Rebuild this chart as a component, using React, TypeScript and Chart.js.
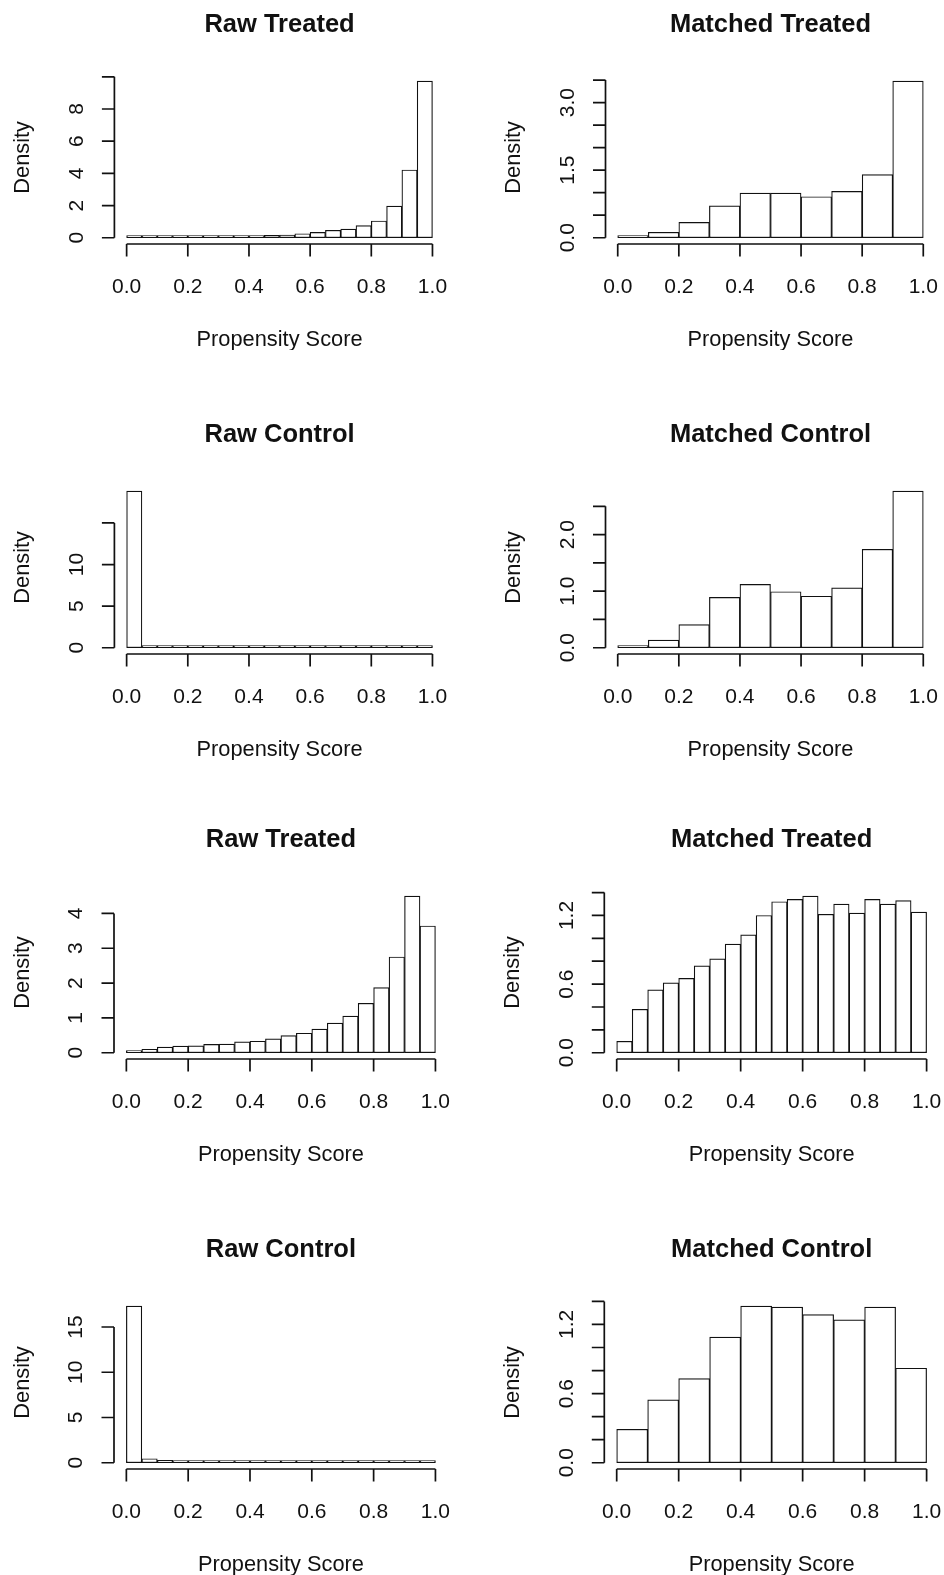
import { useEffect, useRef } from "react";
import { Chart, registerables } from "chart.js";

Chart.register(...registerables);

// Shared x axis (propensity score on [0, 1])
const xTickValues = [0, 0.2, 0.4, 0.6, 0.8, 1.0];
const xTickLabels = ["0.0", "0.2", "0.4", "0.6", "0.8", "1.0"];

// Histogram densities, study 1 (equal-width bins on [0, 1])
const rawTreated1 = [
  0.01, 0.01, 0.02, 0.03, 0.04, 0.06, 0.07, 0.1, 0.12, 0.15,
  0.17, 0.25, 0.33, 0.46, 0.54, 0.75, 1.04, 1.97, 4.21, 9.74,
];
const matchedTreated1 = [0.02, 0.12, 0.34, 0.71, 0.99, 0.99, 0.91, 1.03, 1.4, 3.48];
const rawControl1 = [
  18.84, 0.18, 0.09, 0.06, 0.05, 0.04, 0.04, 0.03, 0.03, 0.03,
  0.03, 0.02, 0.02, 0.02, 0.02, 0.02, 0.02, 0.02, 0.02, 0.02,
];
const matchedControl1 = [0.02, 0.135, 0.41, 0.89, 1.12, 0.99, 0.91, 1.06, 1.74, 2.77];

// Histogram densities, study 2
const rawTreated2 = [
  0.04, 0.1, 0.16, 0.19, 0.2, 0.24, 0.25, 0.31, 0.33, 0.4,
  0.49, 0.56, 0.68, 0.85, 1.05, 1.42, 1.87, 2.75, 4.5, 3.64,
];
const matchedTreated2 = [
  0.1, 0.38, 0.55, 0.61, 0.65, 0.76, 0.82, 0.95, 1.03, 1.2,
  1.32, 1.34, 1.37, 1.21, 1.3, 1.22, 1.34, 1.3, 1.33, 1.23,
];
const rawControl2 = [
  17.32, 0.44, 0.26, 0.18, 0.14, 0.12, 0.1, 0.09, 0.08, 0.07,
  0.07, 0.06, 0.06, 0.05, 0.05, 0.05, 0.04, 0.04, 0.04, 0.04,
];
const matchedControl2 = [0.29, 0.545, 0.73, 1.09, 1.36, 1.35, 1.285, 1.24, 1.35, 0.82];

// Y ticks per panel, with the labels printed beside them ("" = tick only)
const yTicksRT1 = [0, 2, 4, 6, 8, 10];
const yLabelsRT1 = ["0", "2", "4", "6", "8", ""];
const yTicksMT1 = [0, 0.5, 1, 1.5, 2, 2.5, 3, 3.5];
const yLabelsMT1 = ["0.0", "", "", "1.5", "", "", "3.0", ""];
const yTicksRC1 = [0, 5, 10, 15];
const yLabelsRC1 = ["0", "5", "10", ""];
const yTicksMC1 = [0, 0.5, 1, 1.5, 2, 2.5];
const yLabelsMC1 = ["0.0", "", "1.0", "", "2.0", ""];
const yTicksRT2 = [0, 1, 2, 3, 4];
const yLabelsRT2 = ["0", "1", "2", "3", "4"];
const yTicksMT2 = [0, 0.2, 0.4, 0.6, 0.8, 1.0, 1.2, 1.4];
const yLabelsMT2 = ["0.0", "", "", "0.6", "", "", "1.2", ""];
const yTicksRC2 = [0, 5, 10, 15];
const yLabelsRC2 = ["0", "5", "10", "15"];
const yTicksMC2 = [0, 0.2, 0.4, 0.6, 0.8, 1.0, 1.2, 1.4];
const yLabelsMC2 = ["0.0", "", "", "0.6", "", "", "1.2", ""];

const FONT = '"Liberation Sans", Arial, Helvetica, sans-serif';
const INK = "#111";
const CANVAS_W = 472;
const CANVAS_H = 350;
const TICK_LEN = 12.5;

type PanelCfg = {
  title: string;
  values: number[];
  yTicks: number[];
  yLabels: string[];
  left: number;
  top: number;
  pad: { left: number; right: number; top: number; bottom: number };
};

const padLeftCol12 = { left: 114.4, right: 27.3, top: 74.75, bottom: 106 };
const padRightCol12 = { left: 133.5, right: 8.5, top: 74.75, bottom: 106 };
const padLeftCol34 = { left: 114, right: 24.2, top: 74.75, bottom: 106 };
const padRightCol34 = { left: 132.3, right: 5, top: 74.75, bottom: 106 };

const panels: PanelCfg[] = [
  { title: "Raw Treated", values: rawTreated1, yTicks: yTicksRT1, yLabels: yLabelsRT1, left: 0, top: 0, pad: padLeftCol12 },
  { title: "Matched Treated", values: matchedTreated1, yTicks: yTicksMT1, yLabels: yLabelsMT1, left: 472, top: 0, pad: padRightCol12 },
  { title: "Raw Control", values: rawControl1, yTicks: yTicksRC1, yLabels: yLabelsRC1, left: 0, top: 410, pad: padLeftCol12 },
  { title: "Matched Control", values: matchedControl1, yTicks: yTicksMC1, yLabels: yLabelsMC1, left: 472, top: 410, pad: padRightCol12 },
  { title: "Raw Treated", values: rawTreated2, yTicks: yTicksRT2, yLabels: yLabelsRT2, left: 0, top: 815, pad: padLeftCol34 },
  { title: "Matched Treated", values: matchedTreated2, yTicks: yTicksMT2, yLabels: yLabelsMT2, left: 472, top: 815, pad: padRightCol34 },
  { title: "Raw Control", values: rawControl2, yTicks: yTicksRC2, yLabels: yLabelsRC2, left: 0, top: 1225, pad: padLeftCol34 },
  { title: "Matched Control", values: matchedControl2, yTicks: yTicksMC2, yLabels: yLabelsMC2, left: 472, top: 1225, pad: padRightCol34 },
];

// Base-graphics style axes: detached lines spanning first..last tick, outward ticks,
// y labels parallel to the axis, plus main title and axis titles.
function makeAxesPlugin(cfg: PanelCfg) {
  return {
    id: "histAxes",
    afterDraw(chart: any) {
      const { ctx, chartArea: a, scales } = chart;
      const xs = scales.x;
      const ys = scales.y;
      ctx.save();
      ctx.strokeStyle = INK;
      ctx.fillStyle = INK;
      ctx.lineWidth = 1.7;
      ctx.lineCap = "butt";

      // x axis
      const xa = xs.getPixelForValue(xTickValues[0]);
      const xb = xs.getPixelForValue(xTickValues[xTickValues.length - 1]);
      ctx.beginPath();
      ctx.moveTo(xa, a.bottom);
      ctx.lineTo(xb, a.bottom);
      xTickValues.forEach((v) => {
        const px = xs.getPixelForValue(v);
        ctx.moveTo(px, a.bottom);
        ctx.lineTo(px, a.bottom + TICK_LEN);
      });
      // y axis
      const ya = ys.getPixelForValue(cfg.yTicks[0]);
      const yb = ys.getPixelForValue(cfg.yTicks[cfg.yTicks.length - 1]);
      ctx.moveTo(a.left, ya);
      ctx.lineTo(a.left, yb);
      cfg.yTicks.forEach((v) => {
        const py = ys.getPixelForValue(v);
        ctx.moveTo(a.left, py);
        ctx.lineTo(a.left - TICK_LEN, py);
      });
      ctx.stroke();

      ctx.textAlign = "center";
      ctx.textBaseline = "alphabetic";
      ctx.font = `21px ${FONT}`;
      xTickLabels.forEach((t, i) => {
        ctx.fillText(t, xs.getPixelForValue(xTickValues[i]), a.bottom + 49);
      });

      cfg.yLabels.forEach((t, i) => {
        if (!t) return;
        ctx.save();
        ctx.translate(a.left - 31.7, ys.getPixelForValue(cfg.yTicks[i]));
        ctx.rotate(-Math.PI / 2);
        ctx.fillText(t, 0, 0);
        ctx.restore();
      });

      ctx.font = `21.8px ${FONT}`;
      ctx.fillText("Propensity Score", (a.left + a.right) / 2, a.bottom + 101.5);

      ctx.save();
      ctx.translate(a.left - 85.5, (a.top + a.bottom) / 2 - 2);
      ctx.rotate(-Math.PI / 2);
      ctx.fillText("Density", 0, 0);
      ctx.restore();

      ctx.font = `bold 25.5px ${FONT}`;
      ctx.fillText(cfg.title, (a.left + a.right) / 2, a.top - 43);
      ctx.restore();
    },
  };
}

function HistPanel({ cfg }: { cfg: PanelCfg }) {
  const ref = useRef<HTMLCanvasElement | null>(null);

  useEffect(() => {
    if (!ref.current) return;
    const n = cfg.values.length;
    const binW = 1 / n;
    const points = cfg.values.map((v, i) => ({ x: (i + 0.5) * binW, y: v }));
    const ymax = Math.max(...cfg.values);

    const chart = new Chart(ref.current, {
      type: "bar",
      data: {
        datasets: [
          {
            data: points,
            backgroundColor: "#ffffff",
            borderColor: INK,
            borderWidth: 1.2,
            borderSkipped: false,
            barPercentage: 1,
            categoryPercentage: 1,
            minBarLength: 2.2,
          },
        ],
      },
      options: {
        responsive: false,
        animation: false,
        events: [],
        layout: { padding: cfg.pad },
        plugins: {
          legend: { display: false },
          title: { display: false },
          tooltip: { enabled: false },
        },
        scales: {
          x: {
            type: "linear",
            display: false,
            offset: false,
            min: -0.04,
            max: 1.04,
            afterBuildTicks: (axis: any) => {
              axis.ticks = xTickValues.map((value) => ({ value }));
            },
          },
          y: {
            type: "linear",
            display: false,
            min: -0.04 * ymax,
            max: 1.04 * ymax,
            afterBuildTicks: (axis: any) => {
              axis.ticks = cfg.yTicks.map((value) => ({ value }));
            },
          },
        },
      },
      plugins: [makeAxesPlugin(cfg)],
    } as any);

    return () => chart.destroy();
  }, [cfg]);

  return (
    <canvas
      ref={ref}
      width={CANVAS_W}
      height={CANVAS_H}
      style={{
        position: "absolute",
        left: cfg.left,
        top: cfg.top,
        width: CANVAS_W,
        height: CANVAS_H,
        display: "block",
      }}
    />
  );
}

export default function App() {
  return (
    <div
      style={{
        position: "absolute",
        left: 0,
        top: 0,
        width: 944,
        height: 1575,
        background: "#ffffff",
        overflow: "hidden",
      }}
    >
      {panels.map((p, i) => (
        <HistPanel key={i} cfg={p} />
      ))}
    </div>
  );
}
